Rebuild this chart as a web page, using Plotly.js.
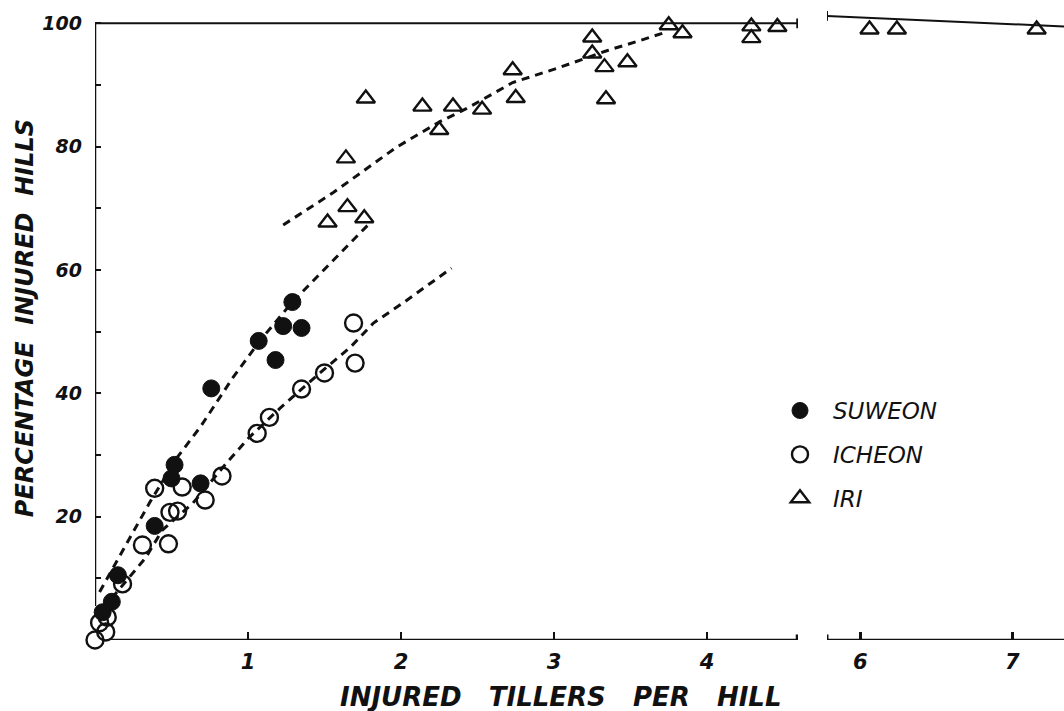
<!DOCTYPE html>
<html>
<head>
<meta charset="utf-8">
<script src="https://cdn.plot.ly/plotly-3.0.1.min.js"></script>
<style>
html,body{margin:0;padding:0;background:#fff;}
#chart{width:1064px;height:711px;}
</style>
</head>
<body>
<div id="chart"></div>
<script>
// ---- data ----
const suweonX = [1.29, 1.23, 1.35, 1.07, 1.18, 0.76, 0.52, 0.50, 0.69, 0.39, 0.15, 0.11, 0.05];
const suweonY = [54.8, 50.9, 50.6, 48.5, 45.4, 40.8, 28.4, 26.2, 25.4, 18.5, 10.5, 6.2, 4.5];

const icheonX = [1.69, 1.70, 1.50, 1.35, 1.14, 1.06, 0.83, 0.39, 0.57, 0.72, 0.49, 0.54, 0.31, 0.48, 0.18, 0.08, 0.03, 0.07, 0.00];
const icheonY = [51.4, 44.9, 43.3, 40.7, 36.1, 33.5, 26.6, 24.6, 24.8, 22.7, 20.7, 20.9, 15.4, 15.6, 9.1, 3.7, 2.8, 1.3, 0.0];

const iriX = [1.77, 1.64, 1.52, 1.65, 1.76, 2.14, 2.34, 2.25, 2.53, 2.73, 2.75, 3.25, 3.25, 3.33, 3.34, 3.48, 3.75, 3.84, 4.29, 4.29, 4.46];
const iriY = [87.8, 78.1, 67.7, 70.2, 68.4, 86.5, 86.5, 82.7, 86.0, 92.4, 87.9, 97.7, 95.1, 92.9, 87.7, 93.7, 99.7, 98.4, 99.5, 97.6, 99.4];
const iriFarX = [6.06, 6.24, 7.16];
const iriFarY = [99.0, 99.0, 99.0];

const suweonFitX = [0.03, 0.36, 0.54, 0.69, 0.90, 1.08, 1.29, 1.62, 1.80];
const suweonFitY = [7.8, 22.4, 29.7, 34.6, 42.5, 48.6, 54.8, 63.2, 67.7];

const icheonFitX = [0.11, 0.33, 0.44, 0.64, 0.86, 1.01, 1.21, 1.47, 1.67, 1.82, 2.01, 2.33];
const icheonFitY = [6.8, 13.3, 17.8, 22.2, 28.7, 32.9, 37.6, 43.3, 47.5, 51.4, 54.6, 60.3];

const iriFitX = [1.23, 1.56, 1.97, 2.25, 2.43, 2.73, 3.02, 3.35, 3.56, 3.71];
const iriFitY = [67.3, 72.6, 79.9, 84.0, 86.2, 90.4, 92.7, 95.6, 97.2, 98.4];

const plateauNearX = [0, 4.59];
const plateauNearY = [100, 100];
const plateauFarX = [5.78, 7.34];
const plateauFarY = [101.2, 99.5];

const yTickVals = [10, 20, 30, 40, 50, 60, 70, 80, 90, 100];
const yTickText = ['', '20', '', '40', '', '60', '', '80', '', '100'];
const xTickVals = [1, 2, 3, 4];
const xTickText = ['1', '2', '3', '4'];
const x2TickVals = [6, 7];
const x2TickText = ['6', '7'];

const seriesNames = ['SUWEON', 'ICHEON', 'IRI'];

// ---- styling ----
const INK = '#111';
const yLabFont = {family: 'DejaVu Sans', size: 19, color: INK, style: 'italic', weight: 'bold'};
const xLabFont = {family: 'DejaVu Sans', size: 21, color: INK, style: 'italic', weight: 'bold'};
const dashLine = {color: INK, width: 3, dash: '8px,6px'};

const traces = [
  {x: suweonFitX, y: suweonFitY, mode: 'lines', line: dashLine, showlegend: false, hoverinfo: 'skip'},
  {x: icheonFitX, y: icheonFitY, mode: 'lines', line: dashLine, showlegend: false, hoverinfo: 'skip'},
  {x: iriFitX, y: iriFitY, mode: 'lines', line: dashLine, showlegend: false, hoverinfo: 'skip'},
  {x: plateauNearX, y: plateauNearY, mode: 'lines', line: {color: INK, width: 2}, showlegend: false, hoverinfo: 'skip'},
  {x: plateauFarX, y: plateauFarY, xaxis: 'x2', mode: 'lines', line: {color: INK, width: 2}, showlegend: false, hoverinfo: 'skip'},
  {x: suweonX, y: suweonY, name: seriesNames[0], mode: 'markers', cliponaxis: false, legendgroup: 'a',
   marker: {symbol: 'circle', size: 17, color: INK, line: {color: INK, width: 1}}},
  {x: icheonX, y: icheonY, name: seriesNames[1], mode: 'markers', cliponaxis: false, legendgroup: 'b',
   marker: {symbol: 'circle-open', size: 17, color: INK, line: {color: INK, width: 2.4}}},
  {x: iriX, y: iriY, name: seriesNames[2], mode: 'markers', cliponaxis: false, legendgroup: 'c',
   marker: {symbol: 'triangle-up-open', size: 16, color: INK, line: {color: INK, width: 2.4}}},
  {x: iriFarX, y: iriFarY, xaxis: 'x2', name: seriesNames[2], mode: 'markers', cliponaxis: false, showlegend: false, legendgroup: 'c',
   marker: {symbol: 'triangle-up-open', size: 16, color: INK, line: {color: INK, width: 2.4}}}
];

const axisLine = (xref, x0, x1, y0, y1, w) => ({type: 'line', xref: xref, yref: 'y', x0: x0, x1: x1, y0: y0, y1: y1, line: {color: INK, width: w}});

const layout = {
  width: 1064, height: 711,
  margin: {l: 95, r: 0, t: 11, b: 71},
  paper_bgcolor: '#fff', plot_bgcolor: '#fff',
  showlegend: true,
  legend: {
    x: 0.6935, y: 0.399, xanchor: 'left', yanchor: 'top',
    font: {family: 'DejaVu Sans', size: 23, color: INK, style: 'italic'},
    tracegroupgap: 11, itemwidth: 56, bgcolor: 'rgba(0,0,0,0)', borderwidth: 0
  },
  xaxis: {
    domain: [0, 0.7255], range: [0, 4.595], anchor: 'y',
    showgrid: false, zeroline: false, showline: false,
    tickmode: 'array', tickvals: xTickVals, ticktext: xTickText,
    ticks: 'inside', ticklen: 8, tickwidth: 2.5, tickcolor: INK,
    tickfont: xLabFont, ticklabelstandoff: 7
  },
  xaxis2: {
    domain: [0.7554, 1], range: [5.78, 7.34], anchor: 'y',
    showgrid: false, zeroline: false, showline: false,
    tickmode: 'array', tickvals: x2TickVals, ticktext: x2TickText,
    ticks: 'inside', ticklen: 8, tickwidth: 2.5, tickcolor: INK,
    tickfont: xLabFont, ticklabelstandoff: 7
  },
  yaxis: {
    range: [0, 102],
    showgrid: false, zeroline: false, showline: false,
    tickmode: 'array', tickvals: yTickVals, ticktext: yTickText,
    ticks: 'inside', ticklen: 6, tickwidth: 2, tickcolor: INK,
    tickfont: yLabFont, ticklabelstandoff: 12
  },
  shapes: [
    axisLine('x', 0, 0, 5.5, 100, 2.5),
    axisLine('x', 0.1, 4.59, 0, 0, 2.5),
    axisLine('x', 4.59, 4.59, -0.9, 0.9, 3),
    axisLine('x', 4.59, 4.59, 99.2, 100.8, 2),
    axisLine('x2', 5.78, 7.34, 0, 0, 2.5),
    axisLine('x2', 5.78, 5.78, -0.9, 0.9, 3),
    axisLine('x2', 5.78, 5.78, 100.4, 102, 2)
  ],
  annotations: [
    {text: 'INJURED   TILLERS   PER   HILL', xref: 'paper', yref: 'paper', x: 0.481, y: -0.0906,
     xanchor: 'center', yanchor: 'middle', showarrow: false,
     font: {family: 'DejaVu Sans', size: 26, color: INK, style: 'italic', weight: 'bold'}},
    {text: 'PERCENTAGE  INJURED  HILLS', xref: 'paper', yref: 'paper', x: -0.072, y: 0.512,
     xanchor: 'center', yanchor: 'middle', showarrow: false, textangle: -90,
     font: {family: 'DejaVu Sans', size: 24, color: INK, style: 'italic', weight: 'bold'}}
  ]
};

Plotly.newPlot('chart', traces, layout, {displayModeBar: false, staticPlot: true});
</script>
</body>
</html>
